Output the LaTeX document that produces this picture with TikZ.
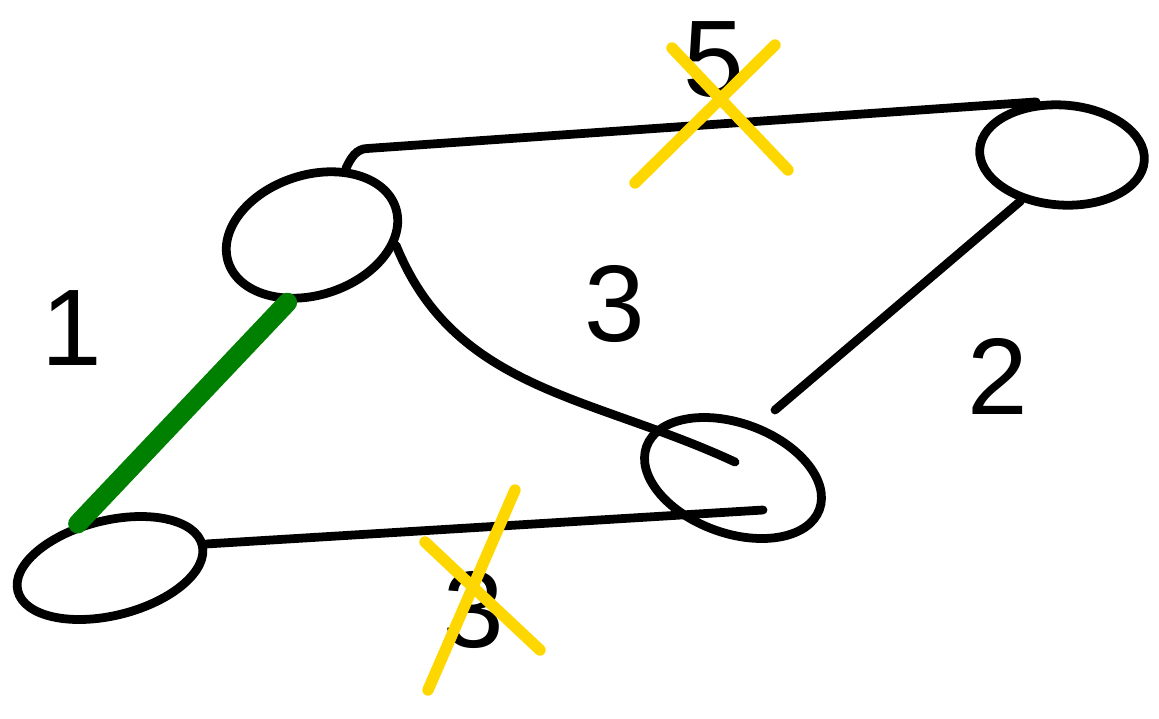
\documentclass[tikz,border=0pt]{standalone}
\usepackage{fontspec}
\setmainfont{Liberation Sans}
\usetikzlibrary{shapes.geometric}
\definecolor{pickC}{HTML}{008000}
\definecolor{crossC}{HTML}{FFD700}
\tikzset{
  vtx/.style={draw, ellipse, line width=5pt, inner sep=0pt},
  edge/.style={line width=5pt, line cap=round},
  picked/.style={line width=11pt, line cap=round, draw=pickC},
  wgt/.style={font=\fontsize{62}{62}\selectfont, inner sep=0pt},
  strike/.style={line width=6.5pt, line cap=round, draw=crossC},
}

\begin{document}
\begin{tikzpicture}[x=0.02cm, y=0.02cm]
\useasboundingbox (0,0) rectangle (1159,-718);
% vertices
\node[vtx, minimum width=3.52cm, minimum height=2.4cm, rotate=18] (a) at (312,-235) {};
\node[vtx, minimum width=3.3cm, minimum height=2.0cm, rotate=-4] (b) at (1062,-155) {};
\node[vtx, minimum width=3.68cm, minimum height=2.2cm, rotate=-20] (c) at (733,-478) {};
\node[vtx, minimum width=3.8cm, minimum height=1.9cm, rotate=14] (d) at (110,-568) {};
% edges
\draw[edge] (a.45) to[out=65, in=180] ++(22,20) -- (b.120);
\draw[edge] (a.-25) to[out=-68, in=155] ([shift={(2,16)}]c.center);
\draw[edge] (b.-128) -- ([shift={(42,68)}]c.center);
\draw[edge] (d.east) -- ([shift={(30,-32)}]c.center);
\draw[picked] (a.-128) -- (d.112);
% weights
\node[wgt] (w1) at (72,-328) {1};
\node[wgt] (w2) at (998,-376) {2};
\node[wgt] (w3) at (615,-304) {3};
\node[wgt] (w5) at (714,-60) {5};
\node[wgt] (w3b) at (474,-610) {3};
% crossed out
\draw[strike] ([shift={(-79,-123)}]w5.center) -- ([shift={(61,15)}]w5.center);
\draw[strike] ([shift={(-42,12)}]w5.center) -- ([shift={(74,-110)}]w5.center);
\draw[strike] ([shift={(-46,-80)}]w3b.center) -- ([shift={(41,120)}]w3b.center);
\draw[strike] ([shift={(-49,68)}]w3b.center) -- ([shift={(66,-40)}]w3b.center);
\end{tikzpicture}
\end{document}
